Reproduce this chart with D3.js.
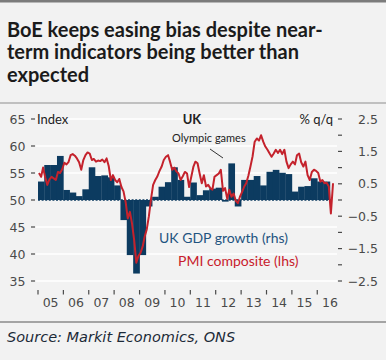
<!DOCTYPE html>
<html>
<head>
<meta charset="utf-8">
<title>BoE keeps easing bias</title>
<script src="https://d3js.org/d3.v7.min.js"></script>
<style>
    body {
        margin: 0;
        background: #f2f2f2;
    }
    svg {
        display: block;
        font-family: Lato, "Open Sans", sans-serif;
    }
    .title { font-size: 20px; font-weight: bold; fill: #1b1b1b; }
    .tick-label { font-family: "DejaVu Sans", sans-serif; font-size: 12.5px; fill: #4a4a4a; }
    .head { font-size: 13px; fill: #222; }
    .source { font-family: "DejaVu Sans", sans-serif; font-size: 14.5px; font-style: italic; fill: #1c2a38; }
</style>
</head>
<body>
<div id="chart"></div>
<script>
// chart text
const titleLines = ["BoE keeps easing bias despite near-", "term indicators being better than", "expected"];
const yearLabels = ["05", "06", "07", "08", "09", "10", "11", "12", "13", "14", "15", "16"];
const leftTicks = [35, 40, 45, 50, 55, 60, 65];
const rightTicks = [-2.5, -2, -1.5, -1, -0.5, 0, 0.5, 1, 1.5, 2, 2.5];
const rightLabels = [2.5, 1.5, 0.5, -0.5, -1.5, -2.5];

// UK GDP growth, % q/q, 2005Q1 - 2016Q2 (rhs)
const gdpStart = [2005, 0];
const gdpGrowth = [
    0.57, 1.08, 1.08, 1.36,
    0.31, 0.23, 0.12, 0.33,
    1.01, 0.74, 0.76, 0.70,
    0.45, -0.62, -1.70, -2.27,
    -1.70, -0.20, 0.10, 0.41,
    0.55, 1.01, 0.62, 0.10,
    0.54, 0.15, 0.30, 0.35,
    0.38, -0.05, 1.13, -0.20,
    0.62, 0.62, 0.74, 0.45,
    0.87, 0.93, 0.84, 0.80,
    0.26, 0.41, 0.43, 0.67,
    0.57, 0.57
];

// PMI composite, index, Jan 2005 - Aug 2016 (lhs)
const pmiStart = [2005, 0];
const pmiComposite = [
    55.0, 54.3, 56.0, 54.2, 52.8, 53.8, 54.3, 54.0, 53.7, 55.2, 55.0, 55.7,
    56.9, 56.6, 57.0, 58.3, 58.5, 58.2, 57.7, 57.0, 55.6, 57.4, 58.3, 58.8,
    58.6, 57.4, 57.6, 57.1, 57.3, 57.2, 57.5, 57.0, 57.7, 56.3, 53.7, 54.6,
    53.7, 53.3, 53.9, 52.4, 51.6, 49.6, 46.6, 47.8, 45.6, 42.6, 38.4, 39.6,
    40.2, 41.4, 43.2, 44.6, 47.0, 50.2, 52.8, 53.7, 54.4, 55.4, 56.2, 57.4,
    58.0, 58.3, 57.1, 55.6, 56.0, 55.3, 54.9, 53.7, 54.4, 55.2, 54.9, 52.4,
    54.3, 56.2, 57.1, 56.8, 54.9, 53.1, 54.6, 52.5, 52.8, 52.2, 51.9, 54.3,
    54.6, 54.9, 55.6, 51.7, 52.2, 50.2, 51.9, 50.6, 51.2, 49.9, 49.4, 50.6,
    51.5, 52.5, 53.1, 54.5, 56.2, 58.1, 60.8, 61.4, 61.0, 62.0, 60.8, 59.9,
    59.3, 58.6, 58.0, 58.6, 59.3, 58.7, 59.3, 58.5, 59.3, 57.1, 55.9, 56.6,
    57.1, 56.6, 58.3, 58.6, 57.0, 56.2, 57.1, 54.6, 53.7, 55.2, 55.6, 55.4,
    55.0, 53.4, 53.7, 53.1, 53.2, 52.5, 47.5, 53.1
];

const W = 386, H = 360;
const navy = "#0c3b60", red = "#c4222c";

const svg = d3.select("#chart").append("svg")
    .attr("width", W)
    .attr("height", H);

// frame lines and title
svg.append("rect").attr("x", 0).attr("y", 0).attr("width", W).attr("height", 2.5).attr("fill", "#7c7c7c");

svg.selectAll(".title")
    .data(titleLines)
    .enter()
    .append("text")
    .attr("class", "title")
    .attr("x", 7)
    .attr("y", (d, i) => 37 + i * 22.3)
    .text(d => d);

svg.append("line").attr("x1", 0).attr("x2", W).attr("y1", 103).attr("y2", 103)
    .attr("stroke", "#8e8e8e").attr("stroke-width", 1);

// scales
const x = d3.scaleTime()
    .domain([new Date(2005, 0, 1), new Date(2017, 0, 1)])
    .range([38, 342.7]);
const yL = d3.scaleLinear().domain([35, 65]).range([281, 119]);
const yR = d3.scaleLinear().domain([-2.5, 2.5]).range([281, 119]);

// grid lines
svg.append("g")
    .selectAll("line")
    .data(leftTicks.filter(d => d !== 50))
    .enter()
    .append("line")
    .attr("x1", 36).attr("x2", 337)
    .attr("y1", d => yL(d)).attr("y2", d => yL(d))
    .attr("stroke", "#ffffff").attr("stroke-width", 1.3);

// GDP bars
const quarters = gdpGrowth.map((v, i) => ({
    start: new Date(gdpStart[0], gdpStart[1] + i * 3, 1),
    end: new Date(gdpStart[0], gdpStart[1] + i * 3 + 3, 1),
    value: v
}));

svg.append("g")
    .selectAll("rect")
    .data(quarters)
    .enter()
    .append("rect")
    .attr("x", d => x(d.start))
    .attr("width", d => x(d.end) - x(d.start) + 0.3)
    .attr("y", d => Math.min(yR(d.value), yR(0)))
    .attr("height", d => Math.abs(yR(d.value) - yR(0)))
    .attr("fill", navy);

// zero line
svg.append("line")
    .attr("x1", x(quarters[0].start)).attr("x2", x(quarters[quarters.length - 1].end) + 2)
    .attr("y1", yR(0)).attr("y2", yR(0))
    .attr("stroke", navy).attr("stroke-width", 1.4)
    .attr("stroke-dasharray", "2,1.6");

// PMI line
const months = pmiComposite.map((v, i) => ({
    date: new Date(pmiStart[0], pmiStart[1] + i, 15),
    value: v
}));

svg.append("path")
    .datum(months)
    .attr("fill", "none")
    .attr("stroke", red)
    .attr("stroke-width", 2)
    .attr("stroke-linejoin", "round")
    .attr("d", d3.line().x(d => x(d.date)).y(d => yL(d.value)));

// left axis
const left = svg.append("g");
left.selectAll("text")
    .data(leftTicks)
    .enter()
    .append("text")
    .attr("class", "tick-label")
    .attr("x", 25.5)
    .attr("y", d => yL(d))
    .attr("dy", "0.36em")
    .attr("text-anchor", "end")
    .text(d => d);
left.selectAll("line")
    .data(leftTicks)
    .enter()
    .append("line")
    .attr("x1", 31).attr("x2", 35)
    .attr("y1", d => yL(d)).attr("y2", d => yL(d))
    .attr("stroke", "#4a4a4a").attr("stroke-width", 1.2);

// right axis
const right = svg.append("g");
right.selectAll("line")
    .data(rightTicks)
    .enter()
    .append("line")
    .attr("x1", 338).attr("x2", 342)
    .attr("y1", d => yR(d)).attr("y2", d => yR(d))
    .attr("stroke", "#4a4a4a").attr("stroke-width", 1.2);
right.selectAll("text")
    .data(rightLabels)
    .enter()
    .append("text")
    .attr("class", "tick-label")
    .attr("x", 378)
    .attr("y", d => yR(d))
    .attr("dy", "0.36em")
    .attr("text-anchor", "end")
    .text(d => d < 0 ? "\u2212" + Math.abs(d) : d);

// x axis
const years = yearLabels.map((d, i) => ({ label: d, start: new Date(2005 + i, 0, 1), mid: new Date(2005 + i, 6, 1) }));
const bottom = svg.append("g");
bottom.selectAll("line")
    .data(years)
    .enter()
    .append("line")
    .attr("x1", d => x(d.start)).attr("x2", d => x(d.start))
    .attr("y1", 290).attr("y2", 294.5)
    .attr("stroke", "#4a4a4a").attr("stroke-width", 1.2);
bottom.selectAll("text")
    .data(years)
    .enter()
    .append("text")
    .attr("class", "tick-label")
    .attr("x", d => x(d.mid))
    .attr("y", 307)
    .attr("text-anchor", "middle")
    .text(d => d.label);

// headers
svg.append("text").attr("class", "head").attr("x", 37).attr("y", 124).text("Index");
svg.append("text").attr("class", "head").attr("x", 192).attr("y", 124)
    .attr("text-anchor", "middle").style("font-weight", "bold").text("UK");
svg.append("text").attr("class", "head").attr("x", 333).attr("y", 124)
    .attr("text-anchor", "end").text("% q/q");

// annotation
svg.append("text").attr("x", 172).attr("y", 142)
    .style("font-size", "11px").attr("fill", "#222").text("Olympic games");
svg.append("line").attr("x1", 210).attr("y1", 149).attr("x2", 223).attr("y2", 158)
    .attr("stroke", "#333").attr("stroke-width", 1);

// legend
svg.append("text").attr("x", 159).attr("y", 243)
    .style("font-size", "14px").attr("fill", "#1f5480").text("UK GDP growth (rhs)");
svg.append("text").attr("x", 178).attr("y", 266)
    .style("font-size", "14px").attr("fill", "#c8202c").text("PMI composite (lhs)");

// footer
svg.append("line").attr("x1", 0).attr("x2", W).attr("y1", 322).attr("y2", 322)
    .attr("stroke", "#8a8a8a").attr("stroke-width", 1.5);
svg.append("text").attr("class", "source").attr("x", 7).attr("y", 342)
    .text("Source: Markit Economics, ONS");
</script>
</body>
</html>
